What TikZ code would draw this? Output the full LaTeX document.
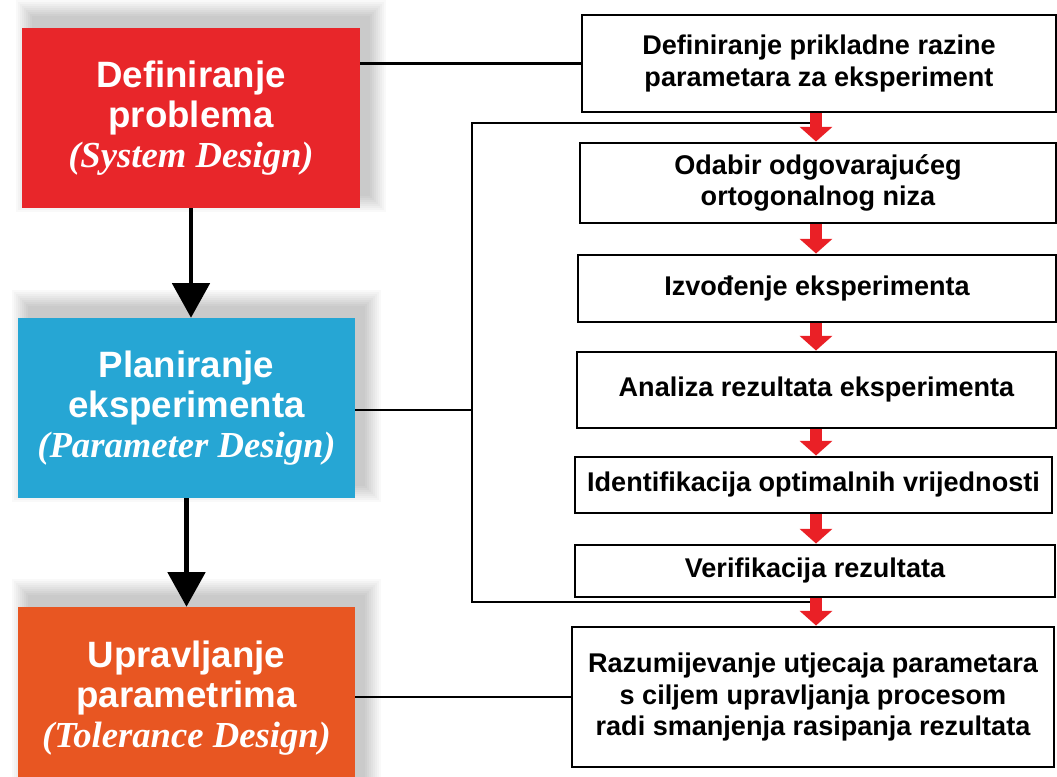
\documentclass[tikz,border=0pt]{standalone}
\usepackage{fontspec}
\setmainfont{Liberation Sans}
\newfontfamily\serifit{Liberation Serif}
\usetikzlibrary{arrows.meta,backgrounds}

\definecolor{probred}{RGB}{232,38,42}
\definecolor{planblue}{RGB}{38,166,212}
\definecolor{tolorange}{RGB}{232,86,34}
\definecolor{arrred}{RGB}{234,32,38}

\tikzset{
  phase/.style={fill=#1, text=white, inner sep=0pt, align=center,
    font=\fontsize{27.5}{30}\selectfont\bfseries},
  stepbox/.style={draw=black, line width=2.2pt, fill=white, inner sep=0pt,
    align=center, minimum width=#1, font=\fontsize{20.3}{23.5}\selectfont\bfseries},
  link/.style={line width=1.8pt},
  downarrow/.style={line width=3.2pt, -{Triangle[width=28pt,length=26pt]}},
  redarrow/.style={arrred, line width=9pt, -{Triangle[width=24pt,length=11pt]}},
}
\newcommand{\engname}[1]{{\serifit\itshape #1}}

\begin{document}
\begin{tikzpicture}[x=0.75pt, y=-0.75pt]
    \path[use as bounding box] (0,0) rectangle (1057,777);

    % left column: the three phases
    \node[phase=probred, minimum width=253.5pt, minimum height=135pt] (red) at (191,118)
        {Definiranje\\problema\\\engname{(System Design)}};
    \node[phase=planblue, minimum width=252.75pt, minimum height=135pt] (blue) at (186.5,408)
        {Planiranje\\eksperimenta\\\engname{(Parameter Design)}};
    \node[phase=tolorange, minimum width=252.75pt, minimum height=136.5pt] (orange) at (186.5,698)
        {Upravljanje\\parametrima\\\engname{(Tolerance Design)}};

    \draw[downarrow] (red.south) -- (red.south |- blue.north);
    \draw[downarrow] (blue.south) -- (blue.south |- orange.north);

    % right column: the steps
    \node[stepbox=355.5pt, minimum height=72.75pt] (b1) at (819,63.5)
        {Definiranje prikladne razine\\parametara za eksperiment};
    \node[stepbox=357pt, minimum height=60pt] (b2) at (818,183)
        {Odabir odgovarajućeg\\ortogonalnog niza};
    \node[stepbox=358.5pt, minimum height=50.25pt] (b3) at (817,288.5)
        {Izvođenje eksperimenta};
    \node[stepbox=359.25pt, minimum height=57pt] (b4) at (816.5,390)
        {Analiza rezultata eksperimenta};
    \node[stepbox=357.75pt, minimum height=42pt] (b5) at (813.5,485)
        {Identifikacija optimalnih vrijednosti};
    \node[stepbox=360pt, minimum height=39pt] (b6) at (815,571)
        {Verifikacija rezultata};
    \node[stepbox=361.5pt, minimum height=105pt] (b7) at (813,697)
        {Razumijevanje utjecaja parametara\\s ciljem upravljanja procesom\\radi smanjenja rasipanja rezultata};

    % links between columns
    \coordinate (brtop) at (816,123);
    \coordinate (brleft) at (472,410);
    \coordinate (brbot) at (816,602);
    \draw[link] (b1.west -| red.east) -- (b1.west);
    \draw[link] (blue.east |- brleft) -- (brleft);
    \draw[link] (brtop) -| (brleft) |- (brbot);
    \draw[link] (b7.west -| orange.east) -- (b7.west);

    \foreach \a/\b in {b1/b2, b2/b3, b3/b4, b4/b5, b5/b6, b6/b7}
        \draw[redarrow] (\a.south -| brtop) -- (\b.north -| brtop);

    % blurred shadows behind the phases
    \begin{scope}[on background layer]
        \fill[white] (0,0) rectangle (1057,777);
        \foreach \ph in {red, blue, orange}
            \foreach \r in {0,2,...,16}
                \fill[black, opacity=0.025] ([shift={(10-\r,-12+\r)}]\ph.south west)
                    rectangle ([shift={(10+\r,-12-\r)}]\ph.north east);
    \end{scope}
\end{tikzpicture}
\end{document}
